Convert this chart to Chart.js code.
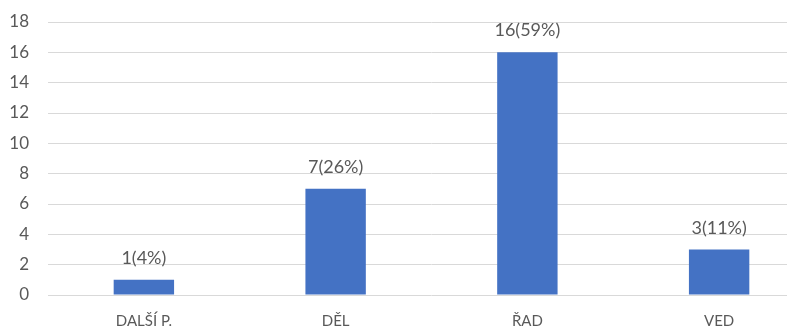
<!DOCTYPE html>
<html>
<head>
<meta charset="utf-8">
<script src="https://cdn.jsdelivr.net/npm/chart.js@4/dist/chart.umd.min.js"></script>
<style>
html,body{margin:0;padding:0;background:#fff;overflow:hidden;}
#wrap{width:815px;height:332px;position:relative;}
</style>
</head>
<body>
<div id="wrap"><canvas id="c" width="815" height="332"></canvas></div>
<script>
const categories = ["DALŠÍ P.", "DĚL", "ŘAD", "VED"];
const values = [1, 7, 16, 3];
const percents = ["4%", "26%", "59%", "11%"];
const yTicks = [0, 2, 4, 6, 8, 10, 12, 14, 16, 18];

const FONT = "Lato, 'Open Sans', sans-serif";
const TEXT = "#595959";

const labelPlugin = {
  id: 'barLabels',
  afterDatasetsDraw(chart) {
    const ctx = chart.ctx;
    const meta = chart.getDatasetMeta(0);
    ctx.save();
    ctx.font = "18px " + FONT;
    ctx.fillStyle = TEXT;
    ctx.textAlign = "center";
    ctx.textBaseline = "alphabetic";
    meta.data.forEach((bar, i) => {
      ctx.fillText(values[i] + "(" + percents[i] + ")", bar.x, bar.y - 16);
    });
    ctx.restore();
  }
};

new Chart(document.getElementById('c'), {
  type: 'bar',
  data: {
    labels: categories,
    datasets: [{
      data: values,
      backgroundColor: '#4472C4',
      borderWidth: 0,
      categoryPercentage: 1,
      barPercentage: 0.315
    }]
  },
  options: {
    responsive: false,
    animation: false,
    layout: { padding: { top: 22, left: 0, right: 0, bottom: 0 } },
    plugins: { legend: { display: false }, tooltip: { enabled: false } },
    scales: {
      x: {
        grid: { display: false, drawTicks: false },
        border: { display: false },
        ticks: { color: TEXT, font: { family: FONT, size: 15 }, padding: 17, maxRotation: 0 },
        afterFit(s) { s.height = 37; s.paddingLeft = 0; s.paddingRight = 0; }
      },
      y: {
        min: 0, max: 18,
        afterBuildTicks(s) { s.ticks = yTicks.map(v => ({ value: v })); },
        grid: { color: '#d9d9d9', lineWidth: 1, drawTicks: false },
        border: { display: false },
        ticks: { color: TEXT, font: { family: FONT, size: 17 }, padding: 19 },
        afterFit(s) { s.width = 48; s.paddingTop = 0; s.paddingBottom = 0; }
      }
    }
  },
  plugins: [labelPlugin]
});
</script>
</body>
</html>
